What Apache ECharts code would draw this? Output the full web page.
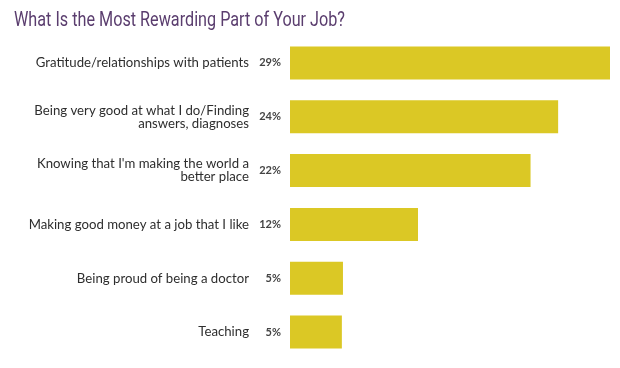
<!DOCTYPE html>
<html><head><meta charset="utf-8">
<script src="https://cdn.jsdelivr.net/npm/echarts@6/dist/echarts.min.js"></script>
<style>html,body{margin:0;padding:0;background:#fff}#c{width:620px;height:368px}</style>
</head><body><div id="c"></div>
<script>
const categories = [
  "Gratitude/relationships with patients",
  "Being very good at what I do/Finding\nanswers, diagnoses",
  "Knowing that I'm making the world a\nbetter place",
  "Making good money at a job that I like",
  "Being proud of being a doctor",
  "Teaching"
];
// bar lengths; labels show the rounded percentages
const values = [29, 24.3, 21.8, 11.6, 4.8, 4.7];
const titleText = "What Is the Most Rewarding Part of Your Job?";

const chart = echarts.init(document.getElementById('c'), null, {renderer: 'canvas'});
chart.setOption({
  animation: false,
  backgroundColor: '#fff',
  graphic: [{
    type: 'text', x: 14, y: 11, scaleX: 0.81, scaleY: 1,
    style: {
      text: titleText, fill: '#5a3d6e',
      font: 'normal 20px Roboto', textVerticalAlign: 'top', verticalAlign: 'top', align: 'left'
    }
  }],
  grid: {left: 290, right: 10, top: 36, bottom: 9, containLabel: false},
  xAxis: {type: 'value', min: 0, max: 29, show: false},
  yAxis: {
    type: 'category', data: categories, inverse: true,
    axisLine: {show: false}, axisTick: {show: false},
    axisLabel: {margin: 41, fontFamily: 'Lato', fontSize: 13.2, color: '#2e2e2e', lineHeight: 13, align: 'right'}
  },
  series: [{
    type: 'bar', data: values, barWidth: 33,
    itemStyle: {color: '#dbc825'},
    label: {show: true, position: 'left', distance: 9,
      formatter: p => Math.round(p.value) + '%',
      fontFamily: 'Lato', fontWeight: 'bold', fontSize: 11, color: '#444'}
  }]
});
</script></body></html>
